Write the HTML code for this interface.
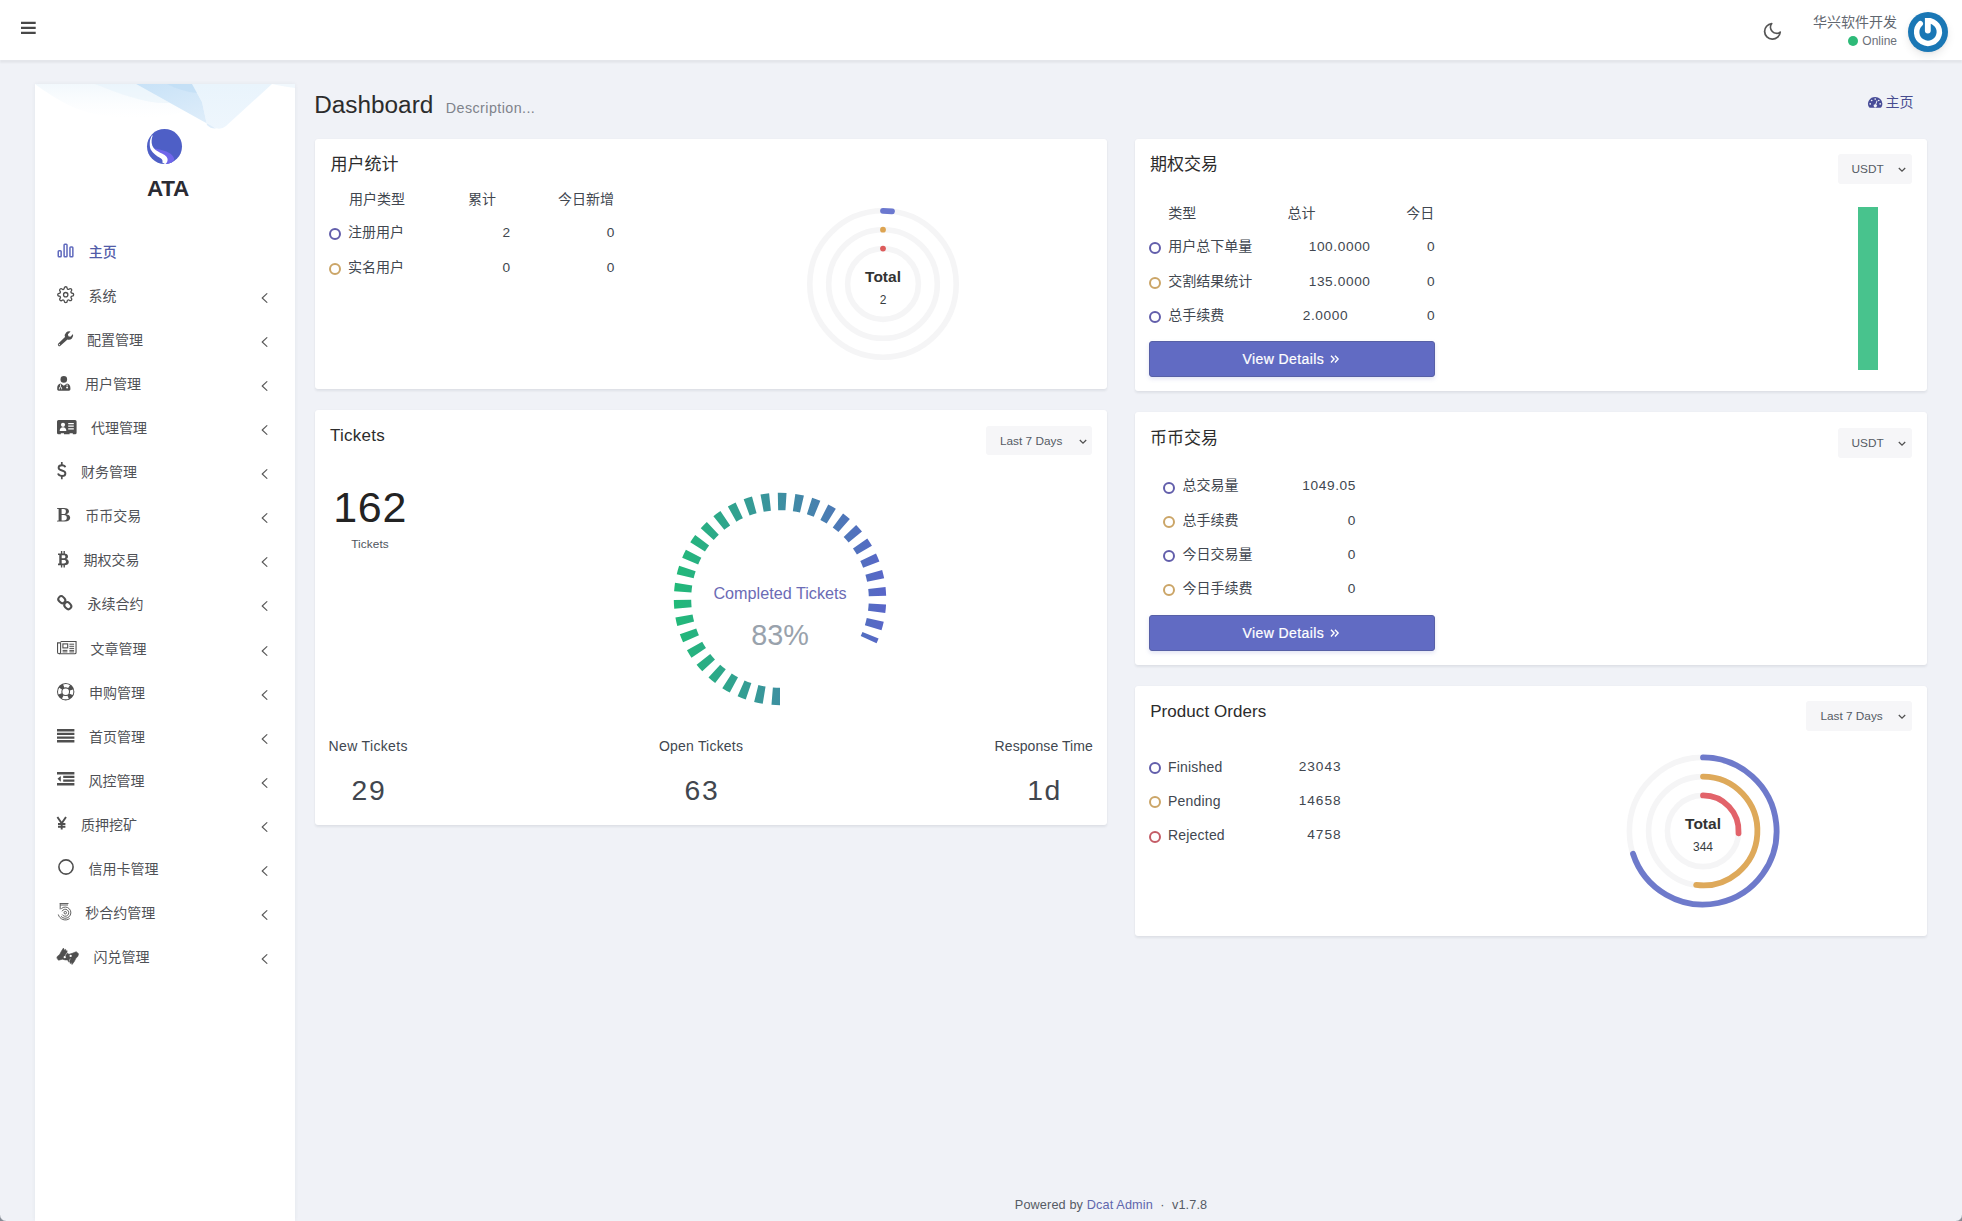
<!DOCTYPE html>
<html lang="zh-CN">
<head>
<meta charset="utf-8">
<title>Dashboard</title>
<style>
*{box-sizing:border-box;margin:0;padding:0}
html,body{width:1962px;height:1221px;overflow:hidden}
body{background:#f0f2f7;font-family:"Liberation Sans","Noto Sans CJK SC",sans-serif;color:#414750;font-size:14px;position:relative}
.t{position:absolute;white-space:nowrap;line-height:1}
.r{text-align:right}
.c{text-align:center}
svg{position:absolute;overflow:visible}
#hdr{position:absolute;left:0;top:0;width:1962px;height:60px;background:#fff;box-shadow:0 3px 1.500px rgba(0,0,0,.048)}
#side{position:absolute;left:35px;top:84px;width:260px;height:1137px;background:#fff;box-shadow:0 0 4px rgba(60,65,80,.07);overflow:hidden}
.card{position:absolute;background:#fff;border-radius:3px;box-shadow:0 1.500px 2.500px rgba(20,25,40,.075),0 0 1px rgba(20,25,40,.04)}
.mi{position:absolute;left:0;width:260px;height:44px}
.mi .tx{position:absolute;font-size:14px;line-height:20px;color:#50545c;white-space:nowrap}
.mi.on .tx{color:#4c5cb5}
.dot{position:absolute;width:12px;height:12px;border-radius:50%;border:2px solid #625eab;background:#fff}
.dot.w{border-color:#cba567}
.dot.d{border-color:#c45c66}
.sel{position:absolute;background:#f6f6f8;border-radius:3px;height:30px}
.sel .t{font-size:11.800px;color:#555b64;top:9px}
.btn{position:absolute;background:#616bc3;border:1px solid #5760a6;border-radius:3px;height:36px;box-shadow:0 2px 4px rgba(97,107,195,.18);color:#fff}
.lbl{font-size:14px;color:#414750}
.num{font-size:13.700px;letter-spacing:.6px;color:#414750}
.num.r{margin-left:.6px}
</style>
</head>
<body>

<div id="hdr">
<svg style="left:20px;top:21px" width="17" height="14" viewBox="0 0 17 14"><path d="M1 1.900h14.700M1 6.900h14.700M1 11.800h14.700" stroke="#484848" stroke-width="2.200" fill="none"/></svg>
<svg style="left:1762.200px;top:21.300px" width="20.800" height="20.800" viewBox="0 0 24 24"><path d="M21 12.79A9 9 0 1 1 11.21 3 7 7 0 0 0 21 12.79z" stroke="#555" stroke-width="2" stroke-linecap="round" stroke-linejoin="round" fill="none"/></svg>
<div class="t r" style="right:65px;top:15px;font-size:14px;color:#626770">华兴软件开发</div>
<div class="t" style="left:1848px;top:36px;width:10px;height:10px;border-radius:50%;background:#2dba78"></div>
<div class="t r" style="right:65px;top:35px;font-size:12px;color:#6b7079">Online</div>
<div class="t" style="left:1908px;top:12px;width:40px;height:40px;border-radius:50%;background:#1a77b5;box-shadow:0 4px 8px rgba(0,0,0,.08),0 1px 3px rgba(0,0,0,.05)"></div>
<svg style="left:1908.100px;top:11.900px" width="40" height="40" viewBox="0 0 40 40"><path d="M20 8.650A11.350 11.350 0 1 1 12.260 11.700" stroke="#fff" stroke-width="5.500" fill="none" stroke-linecap="round"/><path d="M16.900 5.900h5.850v12.700a2.925 2.925 0 0 1-5.850 0z" fill="#fff"/></svg>
</div>

<div id="side"><svg style="left:0;top:0" width="260" height="50" viewBox="0 0 260 50"><defs>
<linearGradient id="g1" x1="0" y1="0" x2="0" y2="1"><stop offset="0" stop-color="#e9f4fb" stop-opacity=".6"/><stop offset="1" stop-color="#f4f9fd" stop-opacity="0"/></linearGradient>
<linearGradient id="g2" x1="0" y1="0" x2=".6" y2="1"><stop offset="0" stop-color="#c8e2f7"/><stop offset="1" stop-color="#deedfa"/></linearGradient>
<linearGradient id="g3" x1="0" y1="0" x2="0" y2="1"><stop offset="0" stop-color="#e9f4fc"/><stop offset="1" stop-color="#eef6fd"/></linearGradient></defs>
<path d="M0 0H101L150 27C120 38 70 36 40 24C22 16 8 6 0 0z" fill="url(#g1)"/>
<path d="M60 0H101L135 19C110 20 85 10 60 0z" fill="#ddeefa" opacity=".35"/>
<path d="M157 0H237L191 42Q185 47 178 43L172 41L167 18z" fill="url(#g3)"/>
<path d="M101 0H157L167 18L172 41Q176 45 181 44.500z" fill="url(#g2)"/>
<path d="M132 0H157L162 9C152 8 142 5 132 0z" fill="#b9daf5" opacity=".45"/>
<path d="M237 0H260V4C250 3 243 1 237 0z" fill="#eef6fc" opacity=".8"/>
</svg>
</div>
<svg style="left:147.100px;top:128.800px" width="35" height="35" viewBox="0 0 35 35"><defs><clipPath id="lc"><circle cx="17.500" cy="17.500" r="17.500"/></clipPath></defs><circle cx="17.500" cy="17.500" r="17.500" fill="#4e5fc6"/><g clip-path="url(#lc)"><path d="M5.700 19.400C10 19.600 15.300 20.600 19.400 22.600C23.400 24.500 26.800 26.800 27.200 30.500L24.500 35C22 36 19.500 36 17.700 34.600C19.600 33 20.200 30.500 18.500 28.300C16.500 26 13 24.800 10.500 23.200C8.500 22 6.600 20.400 5.500 18.600z" fill="#7066ea"/><path d="M5 6.300C2.300 11 2.200 17 3.700 20.500C6 24.600 9.800 27 13.300 29C15.300 30.200 15.900 31.500 15.300 33.600L18.400 35.200C20.800 33 21.400 30 19.500 27.700C17.400 25.300 13.600 24.100 11.100 22.500C7.400 20.600 5.100 17.800 4.700 14C4.500 11.500 4.800 8.800 5.700 6.800z" fill="#fff"/></g></svg>
<div class="t c" style="left:118px;top:178.400px;width:100px;font-size:22.500px;font-weight:700;color:#2b2b33;letter-spacing:-.3px">ATA</div>

<svg style="left:57px;top:243px" width="17" height="15" viewBox="0 0 17 15"><g fill="none" stroke="#5f69bd" stroke-width="1.500"><rect x="1.250" y="7.700" width="2.900" height="6.100" rx=".8"/><rect x="7.100" y="1.200" width="2.900" height="12.600" rx=".8"/><rect x="12.950" y="4" width="2.900" height="9.800" rx=".8"/></g></svg>
<div class="t" style="left:88.8px;top:241.7px;font-size:14px;line-height:20px;color:#525ca8;font-weight:500">主页</div>
<svg style="left:56.8px;top:285.6px" width="17.4" height="17.4" viewBox="0 0 24 24"><g fill="none" stroke="#4f4f4f" stroke-width="1.8" stroke-linecap="round" stroke-linejoin="round"><circle cx="12" cy="12" r="3"/><path d="M19.4 15a1.65 1.65 0 0 0 .33 1.82l.06.06a2 2 0 0 1 0 2.83 2 2 0 0 1-2.83 0l-.06-.06a1.65 1.65 0 0 0-1.82-.33 1.65 1.65 0 0 0-1 1.51V21a2 2 0 0 1-2 2 2 2 0 0 1-2-2v-.09A1.65 1.65 0 0 0 9 19.4a1.65 1.65 0 0 0-1.82.33l-.06.06a2 2 0 0 1-2.83 0 2 2 0 0 1 0-2.83l.06-.06a1.65 1.65 0 0 0 .33-1.82 1.65 1.65 0 0 0-1.51-1H3a2 2 0 0 1-2-2 2 2 0 0 1 2-2h.09A1.65 1.65 0 0 0 4.6 9a1.65 1.65 0 0 0-.33-1.82l-.06-.06a2 2 0 0 1 0-2.83 2 2 0 0 1 2.83 0l.06.06a1.65 1.65 0 0 0 1.82.33H9a1.65 1.65 0 0 0 1-1.51V3a2 2 0 0 1 2-2 2 2 0 0 1 2 2v.09a1.65 1.65 0 0 0 1 1.51 1.65 1.65 0 0 0 1.82-.33l.06-.06a2 2 0 0 1 2.83 0 2 2 0 0 1 0 2.83l-.06.06a1.65 1.65 0 0 0-.33 1.82V9a1.65 1.65 0 0 0 1.51 1H21a2 2 0 0 1 2 2 2 2 0 0 1-2 2h-.09a1.65 1.65 0 0 0-1.51 1z"/></g></svg>
<div class="t" style="left:88.4px;top:285.7px;font-size:14px;line-height:20px;color:#4f5156">系统</div>
<svg style="left:260.5px;top:292.8px" width="7" height="10" viewBox="0 0 7 10"><path d="M5.9 .7L1.200 5l4.700 4.300" fill="none" stroke="#5a5a5a" stroke-width="1.150" stroke-linecap="round" stroke-linejoin="round"/></svg>
<svg style="left:56.8px;top:331.4px" width="16" height="16" viewBox="0 0 16 16"><path d="M1.3 14.7a1.5 1.5 0 0 1 0-2.1L8 5.9A4.4 4.4 0 0 1 13.6.5l-2.7 2.7.5 2 2 .5L16 3a4.4 4.4 0 0 1-5.5 5.5L3.4 14.7a1.5 1.5 0 0 1-2.1 0z" fill="#4f4f4f"/><circle cx="2.4" cy="13.6" r=".65" fill="#fff"/></svg>
<div class="t" style="left:87.0px;top:329.7px;font-size:14px;line-height:20px;color:#4f5156">配置管理</div>
<svg style="left:260.5px;top:336.8px" width="7" height="10" viewBox="0 0 7 10"><path d="M5.9 .7L1.200 5l4.700 4.300" fill="none" stroke="#5a5a5a" stroke-width="1.150" stroke-linecap="round" stroke-linejoin="round"/></svg>
<svg style="left:56.8px;top:375.5px" width="13.6" height="14.8" viewBox="0 0 13.6 14.8"><circle cx="6.8" cy="3.4" r="3.3" fill="#4f4f4f"/><path d="M3.6 7.4C1.4 7.9.2 9.4.2 12v1.3c0 .8.6 1.4 1.4 1.4h10.4c.8 0 1.4-.6 1.4-1.4V12c0-2.600-1.200-4.100-3.400-4.600L6.800 9.700z" fill="#4f4f4f"/><path d="M3.500 8.400v2.400M10.100 8.400v1.700M2.400 13.300v-1.200a1.100 1.100 0 0 1 2.200 0v1.200" stroke="#fff" stroke-width=".9" fill="none"/><circle cx="10.1" cy="11.4" r="1" fill="#fff"/></svg>
<div class="t" style="left:84.9px;top:373.7px;font-size:14px;line-height:20px;color:#4f5156">用户管理</div>
<svg style="left:260.5px;top:380.8px" width="7" height="10" viewBox="0 0 7 10"><path d="M5.9 .7L1.200 5l4.700 4.300" fill="none" stroke="#5a5a5a" stroke-width="1.150" stroke-linecap="round" stroke-linejoin="round"/></svg>
<svg style="left:56.8px;top:419.6px" width="19.6" height="14.3" viewBox="0 0 19.6 14.3"><path d="M1.5 0h16.600a1.500 1.500 0 0 1 1.500 1.500v11.300a1.500 1.500 0 0 1-1.500 1.500h-2.300v-1h-3.200v1h-5.600v-1h-3.200v1h-2.300a1.500 1.500 0 0 1-1.500-1.500v-11.300a1.500 1.500 0 0 1 1.500-1.500z" fill="#4f4f4f"/><circle cx="6" cy="4.800" r="2.100" fill="#fff"/><path d="M2.700 10.900c0-2.300 1.300-3.600 3.300-3.600s3.300 1.300 3.300 3.600z" fill="#fff"/><path d="M11.200 3.600h5.600M11.200 6.200h5.600M11.200 8.800h5.600" stroke="#fff" stroke-width="1.200"/></svg>
<div class="t" style="left:90.9px;top:417.7px;font-size:14px;line-height:20px;color:#4f5156">代理管理</div>
<svg style="left:260.5px;top:424.8px" width="7" height="10" viewBox="0 0 7 10"><path d="M5.9 .7L1.200 5l4.700 4.300" fill="none" stroke="#5a5a5a" stroke-width="1.150" stroke-linecap="round" stroke-linejoin="round"/></svg>
<svg style="left:57.3px;top:462.4px" width="9.4" height="17.2" viewBox="0 0 9.4 17.2"><path d="M8.300 5.200C7.900 3.900 6.600 3.200 4.900 3.200 3 3.200 1.600 4.100 1.600 5.700c0 3.800 6.800 1.800 6.800 5.700 0 1.600-1.400 2.600-3.500 2.600-2 0-3.400-.8-3.900-2.400" stroke="#4f4f4f" stroke-width="1.900" fill="none"/><path d="M4.800 0v3.400M4.800 13.800v3.400" stroke="#4f4f4f" stroke-width="1.700"/></svg>
<div class="t" style="left:81.0px;top:461.7px;font-size:14px;line-height:20px;color:#4f5156">财务管理</div>
<svg style="left:260.5px;top:468.8px" width="7" height="10" viewBox="0 0 7 10"><path d="M5.9 .7L1.200 5l4.700 4.300" fill="none" stroke="#5a5a5a" stroke-width="1.150" stroke-linecap="round" stroke-linejoin="round"/></svg>
<svg style="left:57.3px;top:508.3px" width="13.3" height="13.5" viewBox="0 0 13.3 13.5"><path d="M0 0h7.200c3 0 4.800 1.200 4.800 3.300 0 1.600-1.100 2.600-2.900 3 2.500.300 4.100 1.500 4.100 3.500 0 2.400-2 3.700-5.300 3.700H0v-.8l1.600-.3V1.100L0 .8zM4.600 1v5h1.900c1.600 0 2.400-.9 2.400-2.600S8.100 1 6.500 1zm0 6v5.500h2.300c1.900 0 2.900-1 2.900-2.800S8.800 7 6.700 7z" fill="#4f4f4f"/></svg>
<div class="t" style="left:85.2px;top:505.7px;font-size:14px;line-height:20px;color:#4f5156">币币交易</div>
<svg style="left:260.5px;top:512.8px" width="7" height="10" viewBox="0 0 7 10"><path d="M5.9 .7L1.200 5l4.700 4.300" fill="none" stroke="#5a5a5a" stroke-width="1.150" stroke-linecap="round" stroke-linejoin="round"/></svg>
<svg style="left:58px;top:551.2px" width="10.8" height="16.5" viewBox="0 0 10.8 16.5"><path d="M0 2.400h6c2.600 0 4 1.100 4 3 0 1.300-.7 2.200-2 2.600 1.800.300 2.800 1.400 2.800 3 0 2.100-1.700 3.300-4.500 3.300H0v-1.700h1.300V4.100H0zM3.700 4.300v3h1.800c1.200 0 1.900-.5 1.900-1.500s-.7-1.500-1.900-1.500zm0 4.800v3.300h2.100c1.400 0 2.200-.6 2.200-1.700S7.200 9.100 5.800 9.100z" fill="#4f4f4f"/><path d="M3.600 0v3M6.200 0v3M3.600 13.600v2.900M6.200 13.600v2.900" stroke="#4f4f4f" stroke-width="1.400"/></svg>
<div class="t" style="left:83.5px;top:549.7px;font-size:14px;line-height:20px;color:#4f5156">期权交易</div>
<svg style="left:260.5px;top:556.8px" width="7" height="10" viewBox="0 0 7 10"><path d="M5.9 .7L1.200 5l4.700 4.300" fill="none" stroke="#5a5a5a" stroke-width="1.150" stroke-linecap="round" stroke-linejoin="round"/></svg>
<svg style="left:57.3px;top:594.6px" width="15.6" height="15.4" viewBox="0 0 15.600 15.400"><g fill="none" stroke="#4f4f4f" stroke-width="2"><rect x="-3.700" y="-2.900" width="7.400" height="5.800" rx="2.900" transform="translate(4.800 4.700) rotate(45)"/><rect x="-3.700" y="-2.900" width="7.400" height="5.800" rx="2.900" transform="translate(10.800 10.700) rotate(45)"/></g></svg>
<div class="t" style="left:87.4px;top:593.7px;font-size:14px;line-height:20px;color:#4f5156">永续合约</div>
<svg style="left:260.5px;top:600.8px" width="7" height="10" viewBox="0 0 7 10"><path d="M5.9 .7L1.200 5l4.700 4.300" fill="none" stroke="#5a5a5a" stroke-width="1.150" stroke-linecap="round" stroke-linejoin="round"/></svg>
<svg style="left:56.8px;top:640.6px" width="19.6" height="13.3" viewBox="0 0 19.600 13.300"><g fill="none" stroke="#4f4f4f" stroke-width="1.100"><path d="M3.600.55h15.450v10.900a1.300 1.300 0 0 1-1.300 1.300H2.100"/><path d="M3.600 1.900H.55v9.300a1.500 1.500 0 0 0 3.050 0z"/><rect x="5.900" y="2.900" width="4.800" height="4"/><path d="M12.400 3.200h4.700M12.400 5.300h4.700M12.400 7.400h4.700M5.600 9.400h4.800M12.400 9.400h4.700M5.600 10.900h4.800M12.400 10.900h4.700" stroke-width="1"/></g></svg>
<div class="t" style="left:90.4px;top:638.7px;font-size:14px;line-height:20px;color:#4f5156">文章管理</div>
<svg style="left:260.5px;top:645.8px" width="7" height="10" viewBox="0 0 7 10"><path d="M5.9 .7L1.200 5l4.700 4.300" fill="none" stroke="#5a5a5a" stroke-width="1.150" stroke-linecap="round" stroke-linejoin="round"/></svg>
<svg style="left:56.8px;top:683px" width="17.4" height="17.4" viewBox="0 0 17.400 17.400"><circle cx="8.700" cy="8.700" r="6" fill="none" stroke="#4f4f4f" stroke-width="5.400"/><circle cx="8.700" cy="8.700" r="6" fill="none" stroke="#fff" stroke-width="3.300" stroke-dasharray="5.600 3.825" stroke-dashoffset="2.800"/></svg>
<div class="t" style="left:89.0px;top:682.7px;font-size:14px;line-height:20px;color:#4f5156">申购管理</div>
<svg style="left:260.5px;top:689.8px" width="7" height="10" viewBox="0 0 7 10"><path d="M5.9 .7L1.200 5l4.700 4.300" fill="none" stroke="#5a5a5a" stroke-width="1.150" stroke-linecap="round" stroke-linejoin="round"/></svg>
<svg style="left:56.8px;top:728.7px" width="17.4" height="13.6" viewBox="0 0 17.400 13.600"><path d="M0 1.200h17.400M0 4.900h17.400M0 8.600h17.400M0 12.300h17.400" stroke="#4f4f4f" stroke-width="2.400"/></svg>
<div class="t" style="left:89.0px;top:726.7px;font-size:14px;line-height:20px;color:#4f5156">首页管理</div>
<svg style="left:260.5px;top:733.8px" width="7" height="10" viewBox="0 0 7 10"><path d="M5.9 .7L1.200 5l4.700 4.300" fill="none" stroke="#5a5a5a" stroke-width="1.150" stroke-linecap="round" stroke-linejoin="round"/></svg>
<svg style="left:56.8px;top:772.4px" width="17.4" height="13.6" viewBox="0 0 17.400 13.600"><path d="M0 1.200h17.400M6.200 4.900h11.200M6.200 8.600h11.200M0 12.300h17.400" stroke="#4f4f4f" stroke-width="2.400"/><path d="M3.800 3.900v5.800L.5 6.800z" fill="#4f4f4f"/></svg>
<div class="t" style="left:88.4px;top:770.7px;font-size:14px;line-height:20px;color:#4f5156">风控管理</div>
<svg style="left:260.5px;top:777.8px" width="7" height="10" viewBox="0 0 7 10"><path d="M5.9 .7L1.200 5l4.700 4.300" fill="none" stroke="#5a5a5a" stroke-width="1.150" stroke-linecap="round" stroke-linejoin="round"/></svg>
<svg style="left:57.3px;top:817px" width="9.4" height="12.6" viewBox="0 0 9.400 12.600"><path d="M.4 0l4.300 6.400L9 0M4.700 6v6.600M1 7h7.400M1 9.700h7.400" stroke="#4f4f4f" stroke-width="1.900" fill="none"/></svg>
<div class="t" style="left:81.0px;top:814.7px;font-size:14px;line-height:20px;color:#4f5156">质押挖矿</div>
<svg style="left:260.5px;top:821.8px" width="7" height="10" viewBox="0 0 7 10"><path d="M5.9 .7L1.200 5l4.700 4.300" fill="none" stroke="#5a5a5a" stroke-width="1.150" stroke-linecap="round" stroke-linejoin="round"/></svg>
<svg style="left:57.5px;top:859.4px" width="16" height="16" viewBox="0 0 16 16"><circle cx="8" cy="8" r="7.100" fill="none" stroke="#4f4f4f" stroke-width="1.600"/></svg>
<div class="t" style="left:88.4px;top:858.7px;font-size:14px;line-height:20px;color:#4f5156">信用卡管理</div>
<svg style="left:260.5px;top:865.8px" width="7" height="10" viewBox="0 0 7 10"><path d="M5.9 .7L1.200 5l4.700 4.300" fill="none" stroke="#5a5a5a" stroke-width="1.150" stroke-linecap="round" stroke-linejoin="round"/></svg>
<svg style="left:57.5px;top:903.3px" width="15" height="17.5" viewBox="0 0 15 17.500"><g fill="none" stroke="#5a5a5a" stroke-width=".95"><path d="M1.700 .500H10.500M2.200 2H10M2.200 .500V6.300"/><circle cx="7.250" cy="9.700" r="1.250"/><path d="M4.050 8.300A3.500 3.500 0 1 1 4.200 11.500"/><path d="M3.300 5.700A5.600 5.600 0 1 1 3 13.300"/><path d="M.300 11.500A7.300 7.300 0 0 0 11.700 15.500"/></g></svg>
<div class="t" style="left:85.3px;top:902.7px;font-size:14px;line-height:20px;color:#4f5156">秒合约管理</div>
<svg style="left:260.5px;top:909.8px" width="7" height="10" viewBox="0 0 7 10"><path d="M5.9 .7L1.200 5l4.700 4.300" fill="none" stroke="#5a5a5a" stroke-width="1.150" stroke-linecap="round" stroke-linejoin="round"/></svg>
<svg style="left:57px;top:947.7px" width="22" height="16.5" viewBox="0 0 22 16.500"><path d="M-.1 8.900L2.800 6.300 4.500 3 6.400 .1 7.400 2.200 8.600 1.300 9 3 10.200 2.800 9.700 5 12 6.300 15.300 5.300 19.200 3.700 21.500 5.700 20.900 8.300 18.900 10.200 17.300 13.500 15 16.500 14.400 14.600 13.300 15.600 12.800 13.600 11.600 14 10.700 11.900 8.100 11.900 5.450 11.200 1.500 12.200.200 10.600z" fill="#4f4f4f" stroke="#4f4f4f" stroke-width=".6" stroke-linejoin="round"/><circle cx="7.750" cy="9.200" r="1.150" fill="#fff"/><circle cx="13.650" cy="7.950" r="1.150" fill="#fff"/><path d="M9.700 5l-1.600 3M12 13.500l1.300-3" stroke="#fff" stroke-width=".5"/></svg>
<div class="t" style="left:93.4px;top:946.7px;font-size:14px;line-height:20px;color:#4f5156">闪兑管理</div>
<svg style="left:260.5px;top:953.8px" width="7" height="10" viewBox="0 0 7 10"><path d="M5.9 .7L1.200 5l4.700 4.300" fill="none" stroke="#5a5a5a" stroke-width="1.150" stroke-linecap="round" stroke-linejoin="round"/></svg>
<!-- content header -->
<div class="t" id="h1" style="left:314.200px;top:92.700px;font-size:24.350px;color:#2c2c2c">Dashboard</div>
<div class="t" id="h2" style="left:445.800px;top:101.300px;font-size:14.300px;letter-spacing:.43px;color:#7f838b">Description...</div>
<svg style="left:1868px;top:96.700px" width="14.400" height="10.900" viewBox="0 0 15 12" preserveAspectRatio="none"><path d="M7.500 0a7.500 7.500 0 0 1 7.500 7.500c0 1.500-.4 2.800-1.100 3.900-.2.300-.5.500-.9.500H2c-.4 0-.7-.2-.9-.500A7.500 7.500 0 0 1 7.500 0z" fill="#474c98"/><g fill="#f0f2f7"><circle cx="7.500" cy="2.300" r=".9"/><circle cx="3.800" cy="3.900" r=".9"/><circle cx="11.200" cy="3.900" r=".9"/><circle cx="2.300" cy="7.600" r=".9"/><circle cx="12.700" cy="7.600" r=".9"/><path d="M9 3.800l.9.300-1.300 4.100a1.700 1.700 0 1 1-1-.3z"/></g></svg>
<div class="t" style="left:1885.500px;top:94.500px;font-size:14px;color:#474c90">主页</div>
<div class="t" style="left:1014.800px;top:1199px;font-size:12.700px;letter-spacing:.13px;color:#555b64" id="ft">Powered by <span style="color:#6066ad">Dcat Admin</span> &nbsp;·&nbsp; v1.7.8</div>
<div class="t" id="cornerl" style="left:0;top:1215px;width:6px;height:6px;background:radial-gradient(circle at 100% 0,rgba(130,136,146,0) 5.300px,#858b94 6.600px)"></div>
<div class="t" id="cornerr" style="left:1956px;top:1215px;width:6px;height:6px;background:radial-gradient(circle at 0 0,rgba(130,136,146,0) 5.300px,#858b94 6.600px)"></div>

<!-- card 1: user stats -->
<div class="card" style="left:315px;top:139px;width:792px;height:250px"></div>
<div class="t" style="left:330.5px;top:156.4px;font-size:17px;color:#2c2c2c">用户统计</div>
<div class="t lbl" style="left:349.0px;top:191.7px">用户类型</div>
<div class="t lbl" style="left:468.0px;top:191.7px">累计</div>
<div class="t lbl" style="left:558.0px;top:191.7px">今日新增</div>
<div class="dot" style="left:329.0px;top:228.0px"></div>
<div class="t lbl" style="left:348.0px;top:225.1px">注册用户</div>
<div class="t num r" style="left:410.0px;width:100px;top:226.2px">2</div>
<div class="t num r" style="left:514.4px;width:100px;top:226.2px">0</div>
<div class="dot w" style="left:329.0px;top:263.0px"></div>
<div class="t lbl" style="left:348.0px;top:260.1px">实名用户</div>
<div class="t num r" style="left:410.0px;width:100px;top:261.1px">0</div>
<div class="t num r" style="left:514.4px;width:100px;top:261.1px">0</div>
<svg style="left:802.900px;top:204.200px" width="160" height="160" viewBox="-80 -80 160 160">
<g fill="none" stroke="#f5f5f6" stroke-width="5.600"><circle r="73.200"/><circle r="54.300"/><circle r="35.400"/></g>
<path d="M0 -73.200A73.200 73.200 0 0 1 9 -72.640" fill="none" stroke="#6b78cf" stroke-width="5.800" stroke-linecap="round"/>
<circle cx="0" cy="-54.300" r="2.900" fill="#dda451"/><circle cx="0" cy="-35.400" r="2.900" fill="#dd5b5b"/>
<text x="0" y="-2.200" text-anchor="middle" font-family="Liberation Sans,Helvetica,Arial,sans-serif" font-size="15.500" font-weight="700" fill="#333">Total</text>
<text x="0" y="19.600" text-anchor="middle" font-family="Liberation Sans,Helvetica,Arial,sans-serif" font-size="12" fill="#373d3f">2</text>
</svg>
<!-- card 2: tickets -->
<div class="card" style="left:315px;top:410px;width:792px;height:415px"></div>
<div class="t" id="tk" style="left:330.00px;top:427.01px;font-size:17px;color:#2c2c2c;letter-spacing:0.25px">Tickets</div>
<div class="sel" style="left:986px;top:425.5px;width:106.4px;height:29.2px"><div class="t" id="l7a" style="left:14px;top:10.300px">Last 7 Days</div><svg style="left:92.5px;top:13.400px" width="8" height="6" viewBox="0 0 8 6"><path d="M.8 1l3.200 3.200L7.200 1" fill="none" stroke="#505050" stroke-width="1.250"/></svg></div>
<div class="t" id="n162" style="left:333.20px;top:485.80px;font-size:43px;color:#232323;letter-spacing:0.7px">162</div>
<div class="t" id="tks" style="left:351.20px;top:538.91px;font-size:11.8px;color:#50555d;letter-spacing:0.1px">Tickets</div>
<svg style="left:669.500px;top:488.800px" width="220" height="220" viewBox="-110 -110 220 220">
<defs><linearGradient id="tg" gradientUnits="userSpaceOnUse" x1="-106" y1="0" x2="106" y2="0"><stop offset="0" stop-color="#21ba78"/><stop offset="1" stop-color="#5965c9"/></linearGradient></defs>
<path d="M0.00 97.50A97.5 97.5 0 1 1 88.62 40.66" fill="none" stroke="url(#tg)" stroke-width="17.400" stroke-dasharray="8 8"/>
<text x="0" y="0" text-anchor="middle" font-family="Liberation Sans,Helvetica,Arial,sans-serif" font-size="16.200" fill="#6b6bb5">Completed Tickets</text>
<text x="0" y="45.900" text-anchor="middle" font-family="Liberation Sans,Helvetica,Arial,sans-serif" font-size="28.800" fill="#99a2ac">83%</text>
</svg>
<div class="t" id="nt" style="left:328.60px;top:739.05px;font-size:14px;color:#414750;letter-spacing:0.34px">New Tickets</div>
<div class="t" id="ot" style="left:659.00px;top:739.05px;font-size:14px;color:#414750;letter-spacing:0.2px">Open Tickets</div>
<div class="t r" id="rt" style="right:869.12px;top:739.05px;font-size:14px;color:#414750;letter-spacing:0.08px">Response Time</div>
<div class="t" id="n29" style="left:351.60px;top:776.14px;font-size:28.3px;color:#41464e;letter-spacing:1.6px">29</div>
<div class="t" id="n63" style="left:684.60px;top:776.14px;font-size:28.3px;color:#41464e;letter-spacing:1.6px">63</div>
<div class="t" id="n1d" style="left:1027.20px;top:776.14px;font-size:28.3px;color:#41464e;letter-spacing:1.6px">1d</div>
<!-- card 3: options -->
<div class="card" style="left:1135px;top:139px;width:792px;height:252px"></div>
<div class="t" style="left:1150px;top:156.2px;font-size:17px;color:#2c2c2c">期权交易</div>
<div class="sel" style="left:1838px;top:154px;width:73.6px;height:30px"><div class="t" style="left:13.5px;top:10.300px">USDT</div><svg style="left:60px;top:13.400px" width="8" height="6" viewBox="0 0 8 6"><path d="M.8 1l3.200 3.200L7.200 1" fill="none" stroke="#505050" stroke-width="1.250"/></svg></div>
<div class="t lbl" style="left:1168.2px;top:205.7px">类型</div>
<div class="t lbl" style="left:1287.6px;top:205.7px">总计</div>
<div class="t lbl" style="left:1406.2px;top:205.7px">今日</div>
<div class="dot" style="left:1149.0px;top:242.1px"></div>
<div class="t lbl" style="left:1168.2px;top:239.1px">用户总下单量</div>
<div class="t num" style="left:1308.7px;top:240.2px">100.0000</div>
<div class="t num r" style="left:1334.6px;width:100px;top:240.2px">0</div>
<div class="dot w" style="left:1149.0px;top:277.0px"></div>
<div class="t lbl" style="left:1168.2px;top:274.0px">交割结果统计</div>
<div class="t num" style="left:1308.7px;top:275.1px">135.0000</div>
<div class="t num r" style="left:1334.6px;width:100px;top:275.1px">0</div>
<div class="dot" style="left:1149.0px;top:310.9px"></div>
<div class="t lbl" style="left:1168.2px;top:307.9px">总手续费</div>
<div class="t num" style="left:1302.7px;top:309.1px">2.0000</div>
<div class="t num r" style="left:1334.6px;width:100px;top:309.1px">0</div>
<div class="btn" style="left:1149px;top:341px;width:286px"><div class="t" style="left:92.400px;top:10px;font-size:14px;letter-spacing:.42px;color:#fff;-webkit-text-stroke:.22px #fff">View Details</div><svg style="left:179.700px;top:13px" width="9.200" height="8.200" viewBox="0 0 10 9"><path d="M1 .8l3.500 3.700L1 8.200M5.400 .8l3.500 3.700-3.500 3.700" fill="none" stroke="#fff" stroke-width="1.500"/></svg></div>
<div class="t" style="left:1858.300px;top:207px;width:19.300px;height:162.800px;background:#48c38d"></div>
<!-- card 4: spot -->
<div class="card" style="left:1135px;top:412px;width:792px;height:252.6px"></div>
<div class="t" style="left:1150px;top:430.2px;font-size:17px;color:#2c2c2c">币币交易</div>
<div class="sel" style="left:1838px;top:428px;width:73.6px;height:29.8px"><div class="t" style="left:13.5px;top:10.300px">USDT</div><svg style="left:60px;top:13.400px" width="8" height="6" viewBox="0 0 8 6"><path d="M.8 1l3.200 3.200L7.200 1" fill="none" stroke="#505050" stroke-width="1.250"/></svg></div>
<div class="dot" style="left:1163.0px;top:482.0px"></div>
<div class="t lbl" style="left:1182.4px;top:478.3px">总交易量</div>
<div class="t num r" style="left:1255.4px;width:100px;top:479.1px">1049.05</div>
<div class="dot w" style="left:1163.0px;top:515.7px"></div>
<div class="t lbl" style="left:1182.4px;top:513.2px">总手续费</div>
<div class="t num r" style="left:1255.4px;width:100px;top:514.0px">0</div>
<div class="dot" style="left:1163.0px;top:549.7px"></div>
<div class="t lbl" style="left:1182.4px;top:547.1px">今日交易量</div>
<div class="t num r" style="left:1255.4px;width:100px;top:548.0px">0</div>
<div class="dot w" style="left:1163.0px;top:583.7px"></div>
<div class="t lbl" style="left:1182.4px;top:581.4px">今日手续费</div>
<div class="t num r" style="left:1255.4px;width:100px;top:582.2px">0</div>
<div class="btn" style="left:1149px;top:614.6px;width:286px"><div class="t" style="left:92.400px;top:10px;font-size:14px;letter-spacing:.42px;color:#fff;-webkit-text-stroke:.22px #fff">View Details</div><svg style="left:179.700px;top:13px" width="9.200" height="8.200" viewBox="0 0 10 9"><path d="M1 .8l3.500 3.700L1 8.200M5.400 .8l3.500 3.700-3.500 3.700" fill="none" stroke="#fff" stroke-width="1.500"/></svg></div>
<!-- card 5: product orders -->
<div class="card" style="left:1135px;top:686px;width:792px;height:249.5px"></div>
<div class="t" id="po" style="left:1150.20px;top:702.81px;font-size:17px;color:#2c2c2c;letter-spacing:0.06px">Product Orders</div>
<div class="sel" style="left:1806.4px;top:701px;width:105.2px;height:29.6px"><div class="t" id="l7b" style="left:14px;top:10.300px">Last 7 Days</div><svg style="left:91.6px;top:13.400px" width="8" height="6" viewBox="0 0 8 6"><path d="M.8 1l3.200 3.200L7.200 1" fill="none" stroke="#505050" stroke-width="1.250"/></svg></div>
<div class="dot" style="left:1149.0px;top:761.9px"></div>
<div class="t" style="left:1168.00px;top:760.05px;font-size:14px;color:#414750;letter-spacing:0.2px">Finished</div>
<div class="t r" style="right:620.45px;top:760.30px;font-size:13.7px;color:#414750;letter-spacing:0.95px">23043</div>
<div class="dot w" style="left:1149.0px;top:796.0px"></div>
<div class="t" style="left:1168.00px;top:794.05px;font-size:14px;color:#414750;letter-spacing:0.2px">Pending</div>
<div class="t r" style="right:620.45px;top:794.30px;font-size:13.7px;color:#414750;letter-spacing:0.95px">14658</div>
<div class="dot d" style="left:1149.0px;top:830.9px"></div>
<div class="t" style="left:1168.00px;top:827.85px;font-size:14px;color:#414750;letter-spacing:0.2px">Rejected</div>
<div class="t r" style="right:620.45px;top:828.10px;font-size:13.7px;color:#414750;letter-spacing:0.95px">4758</div>
<svg style="left:1622.900px;top:751.100px" width="160" height="160" viewBox="-80 -80 160 160">
<g fill="none" stroke="#f5f5f6" stroke-width="5.600"><circle r="73.600"/><circle r="54.400"/><circle r="35.600"/></g>
<g fill="none" stroke-width="5.800" stroke-linecap="round"><path d="M0 -73.6A73.6 73.6 0 1 1 -70.00 22.74" stroke="#6e7acb"/><path d="M0 -54.4A54.4 54.4 0 1 1 -6.82 53.97" stroke="#dea95a"/><path d="M0 -35.6A35.6 35.6 0 0 1 35.53 2.24" stroke="#e2636a"/></g>
<text x="0" y="-2.200" text-anchor="middle" font-family="Liberation Sans,Helvetica,Arial,sans-serif" font-size="15.500" font-weight="700" fill="#333">Total</text>
<text x="0" y="19.600" text-anchor="middle" font-family="Liberation Sans,Helvetica,Arial,sans-serif" font-size="12" fill="#373d3f">344</text>
</svg>

</body>
</html>
